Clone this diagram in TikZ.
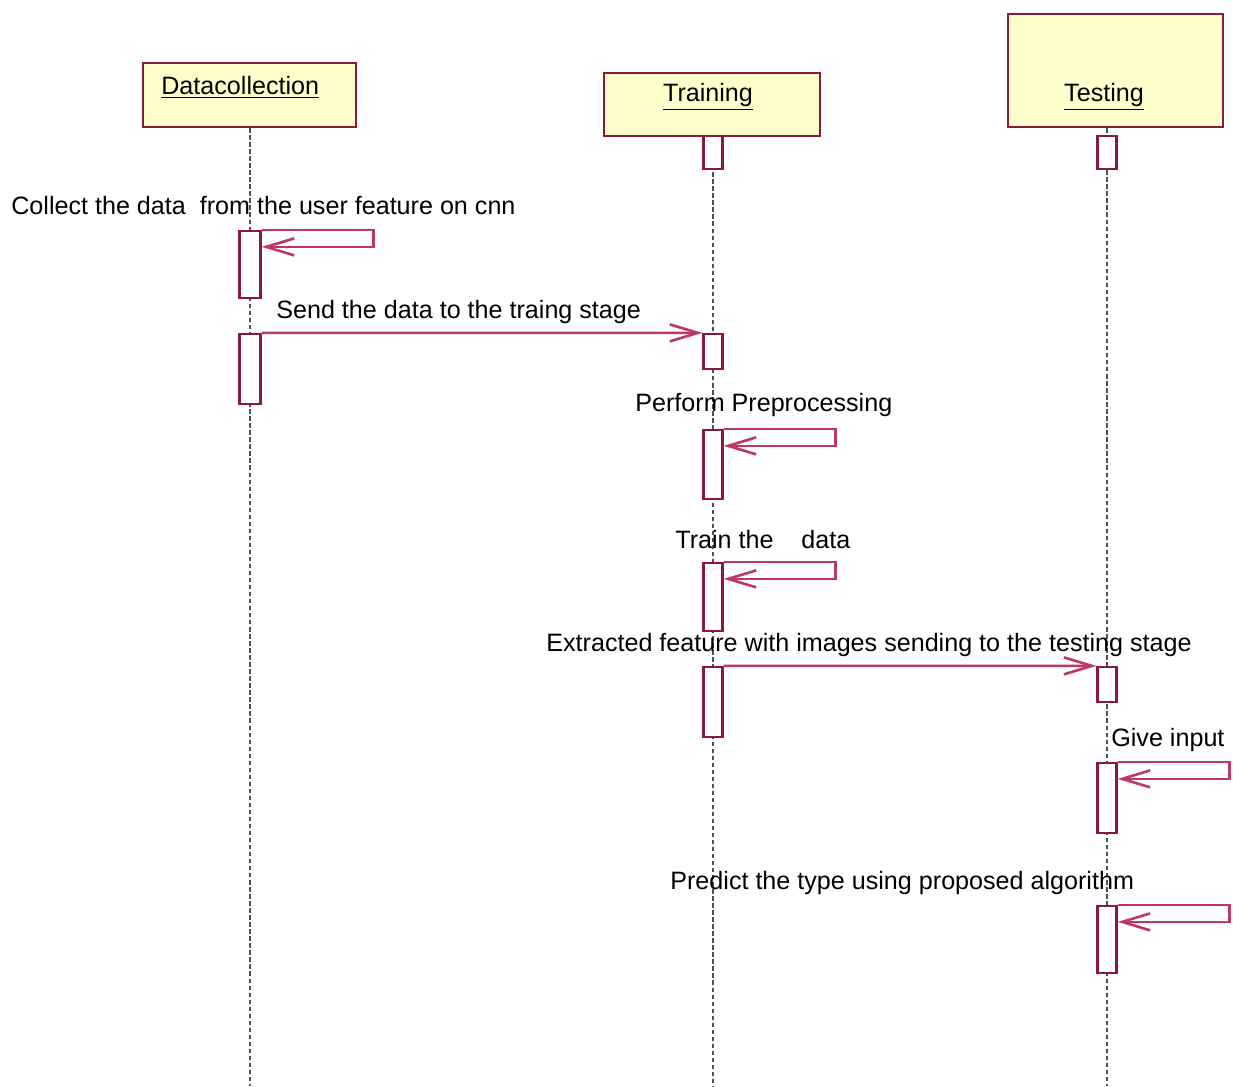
\documentclass[tikz,border=0pt]{standalone}
\usepackage{fontspec}
\setmainfont{Liberation Sans}
\usetikzlibrary{arrows.meta,backgrounds}
\definecolor{boxfill}{RGB}{255,255,204}
\definecolor{boxline}{RGB}{140,25,55}
\definecolor{msgcol}{RGB}{190,55,105}
\definecolor{lifecol}{RGB}{80,80,80}
\tikzset{
  obj/.style={draw=boxline,fill=boxfill,line width=1.3pt,inner sep=0},
  act/.style={draw=boxline,fill=white,line width=1.3pt,minimum width=0.38cm,inner sep=0},
  life/.style={draw=lifecol,line width=1.6pt,dash pattern=on 2.5pt off 1.5pt},
  msg/.style={draw=msgcol,line width=1.5pt,-{Straight Barb[length=0.56cm,width=0.34cm,line width=1.5pt]}},
  lbl/.style={inner sep=0,font=\fontsize{14.3}{17}\selectfont}
}
\begin{document}
\begin{tikzpicture}[x=0.02cm,y=-0.02cm]
\useasboundingbox (0,0) rectangle (1233,1086);
\coordinate (bottom) at (0,1086);

% objects
\node [obj,minimum width=4.26cm,minimum height=1.28cm] (dc) at (249.5,95) {};
\node [obj,minimum width=4.32cm,minimum height=1.26cm] (tr) at (712,104.5) {};
\node [obj,minimum width=4.3cm,minimum height=2.26cm] (ts) at (1115.5,70.5) {};
\node [lbl,anchor=west] (dclbl) at (161,87) {\underline{Datacollection}};
\node [lbl] (trlbl) at (708,97) {\underline{Training}};
\node [lbl] (tslbl) at (1104,97) {\underline{Testing}};

% activations
\node [act,minimum width=0.42cm,minimum height=1.34cm] (d1) at (250,264.5) {};
\node [act,minimum width=0.42cm,minimum height=1.4cm] (d2) at (250,369) {};
\node [act,minimum height=0.66cm] (t0) at (713,152.5) {};
\node [act,minimum height=0.7cm] (t1) at (713,351.5) {};
\node [act,minimum height=1.38cm] (t2) at (713,464.5) {};
\node [act,minimum height=1.36cm] (t3) at (713,597) {};
\node [act,minimum height=1.4cm] (t4) at (713,702) {};
\node [act,minimum height=0.66cm] (s0) at (1107,152.5) {};
\node [act,minimum height=0.7cm] (s1) at (1107,684.5) {};
\node [act,minimum height=1.4cm] (s2) at (1107,798) {};
\node [act,minimum height=1.34cm] (s3) at (1107,939.5) {};

% lifelines
\begin{scope}[on background layer]
\draw [life] (dc.south -| d1) -- (d1 |- bottom);
\draw [life] (tr.south -| t0) -- (t0 |- bottom);
\draw [life] (ts.south -| s0) -- (s0 |- bottom);
\end{scope}

% messages
\node [lbl,anchor=west] (m1) at (11,206) {Collect the data\ \ from the user feature on cnn};
\draw [msg] (d1.north east) -- ++(112,0) -- ++(0,17) -- ++(-112,0);

\node [lbl,anchor=west] (m2) at (276,312) {Send the data to the traing stage};
\draw [msg] (d2.north east) -- (t1.north west);

\node [lbl,anchor=west] (m3) at (635,405) {Perform Preprocessing};
\draw [msg] (t2.north east) -- ++(112,0) -- ++(0,17) -- ++(-112,0);

\node [lbl,anchor=west] (m4) at (675,540) {Train the\ \ \ \ data};
\draw [msg] (t3.north east) -- ++(112,0) -- ++(0,17) -- ++(-112,0);

\node [lbl,anchor=west] (m5) at (546,645) {Extracted feature with images sending to the testing stage};
\draw [msg] (t4.north east) -- (s1.north west);

\node [lbl,anchor=west] (m6) at (1111,740) {Give input};
\draw [msg] (s2.north east) -- ++(112,0) -- ++(0,17) -- ++(-112,0);

\node [lbl,anchor=west] (m7) at (670,883) {Predict the type using proposed algorithm};
\draw [msg] (s3.north east) -- ++(112,0) -- ++(0,17) -- ++(-112,0);
\end{tikzpicture}
\end{document}
